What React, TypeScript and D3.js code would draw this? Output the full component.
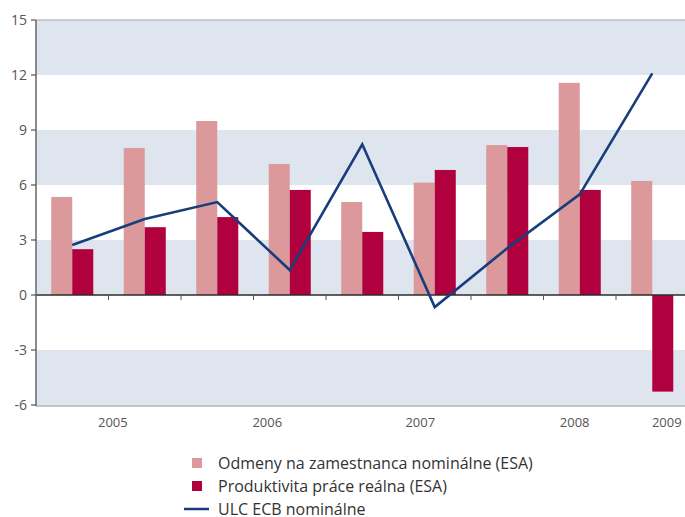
import React from "react";
import * as d3 from "d3";

const periods = ["P1", "P2", "P3", "P4", "P5", "P6", "P7", "P8", "P9"];
const odmeny = [5.35, 8.02, 9.49, 7.15, 5.07, 6.13, 8.18, 11.57, 6.22];
const produktivita = [2.5, 3.7, 4.25, 5.73, 3.44, 6.82, 8.07, 5.73, -5.27];
const ulc = [2.73, 4.15, 5.07, 1.36, 8.22, -0.66, 2.55, 5.49, 12.09];
const yTicks = [-6, -3, 0, 3, 6, 9, 12, 15];
const yearLabels = ["2005", "2006", "2007", "2008", "2009"];
const yearPos = [1.06, 3.19, 5.3, 7.43, 8.7];
const legendLabels = [
  "Odmeny na zamestnanca nominálne (ESA)",
  "Produktivita práce reálna (ESA)",
  "ULC ECB nominálne",
];

const W = 685;
const H = 517;
const left = 36;
const right = 688.5;
const top = 20;
const bottom = 405;

const C_LIGHT = "#dc999b";
const C_DARK = "#b0003d";
const C_LINE = "#173e7a";
const C_BAND = "#dfe5ef";
const FONT = "'Open Sans', 'Noto Sans', sans-serif";

export default function App() {
  const y = d3.scaleLinear().domain([-6, 15]).range([bottom, top]);
  const x0 = d3
    .scaleBand<string>()
    .domain(periods)
    .range([left, right])
    .paddingInner(0.42)
    .paddingOuter(0.21);
  const x1 = d3
    .scaleBand<string>()
    .domain(["a", "b"])
    .range([0, x0.bandwidth()]);
  const xl = d3.scaleLinear().domain([0, periods.length]).range([left, right]);
  const center = (p: string) => (x0(p) as number) + x0.bandwidth() / 2;

  const bands: [number, number][] = [];
  for (let v = -6; v < 15; v += 6) bands.push([v, v + 3]);
  bands.push([12, 15]);

  const line = d3
    .line<number>()
    .x((_, i) => center(periods[i]))
    .y((d) => y(d));

  return (
    <svg
      width={W}
      height={H}
      style={{ position: "absolute", left: 0, top: 0, background: "#fff" }}
    >
      {/* bands */}
      {[[-6, -3], [0, 3], [6, 9], [12, 15]].map(([a, b], i) => (
        <rect
          key={i}
          x={left}
          y={y(b)}
          width={W - left}
          height={y(a) - y(b)}
          fill={C_BAND}
        />
      ))}
      {/* top & bottom border */}
      <line x1={left} x2={W} y1={y(15)} y2={y(15)} stroke="#a8a8a8" strokeWidth={1.2} />
      <line x1={left} x2={W} y1={y(-6) + 1} y2={y(-6) + 1} stroke="#c4c4c8" strokeWidth={2} />

      {/* bars */}
      {periods.map((p, i) => (
        <g key={p}>
          <rect
            x={(x0(p) as number) + (x1("a") as number)}
            y={y(Math.max(0, odmeny[i]))}
            width={x1.bandwidth()}
            height={Math.abs(y(odmeny[i]) - y(0))}
            fill={C_LIGHT}
          />
          <rect
            x={(x0(p) as number) + (x1("b") as number)}
            y={y(Math.max(0, produktivita[i]))}
            width={x1.bandwidth()}
            height={Math.abs(y(produktivita[i]) - y(0))}
            fill={C_DARK}
          />
        </g>
      ))}

      {/* zero line and ticks */}
      <line x1={left} x2={W} y1={y(0)} y2={y(0)} stroke="#2b2b2b" strokeWidth={1.5} />
      {d3.range(1, periods.length).map((i) => (
        <line
          key={i}
          x1={xl(i)}
          x2={xl(i)}
          y1={y(0)}
          y2={y(0) + 5}
          stroke="#555"
          strokeWidth={1}
        />
      ))}

      {/* ULC line */}
      <path d={line(ulc) as string} fill="none" stroke={C_LINE} strokeWidth={2.6} strokeLinejoin="miter" />

      {/* y axis */}
      <line x1={left} x2={left} y1={top} y2={bottom + 1} stroke="#666" strokeWidth={1.5} />
      {yTicks.map((t) => (
        <g key={t}>
          <line x1={left - 5} x2={left} y1={y(t)} y2={y(t)} stroke="#555" strokeWidth={1.2} />
          <text
            x={left - 9}
            y={y(t)}
            dy="0.35em"
            textAnchor="end"
            fontFamily={FONT}
            fontSize={14}
            fill="#555"
          >
            {t}
          </text>
        </g>
      ))}

      {/* year labels */}
      {yearLabels.map((lab, i) => (
        <text
          key={lab}
          x={xl(yearPos[i])}
          y={427}
          textAnchor="middle"
          fontFamily={FONT}
          fontSize={13}
          fill="#555"
        >
          {lab}
        </text>
      ))}

      {/* legend */}
      <g fontFamily={FONT} fontSize={16} fill="#333">
        <rect x={192} y={458} width={10} height={10} fill={C_LIGHT} />
        <text x={218} y={463} dy="0.35em">{legendLabels[0]}</text>
        <rect x={192} y={481} width={10} height={10} fill={C_DARK} />
        <text x={218} y={486} dy="0.35em">{legendLabels[1]}</text>
        <line x1={184} x2={209} y1={509} y2={509} stroke={C_LINE} strokeWidth={2.5} />
        <text x={218} y={509} dy="0.35em">{legendLabels[2]}</text>
      </g>
    </svg>
  );
}
